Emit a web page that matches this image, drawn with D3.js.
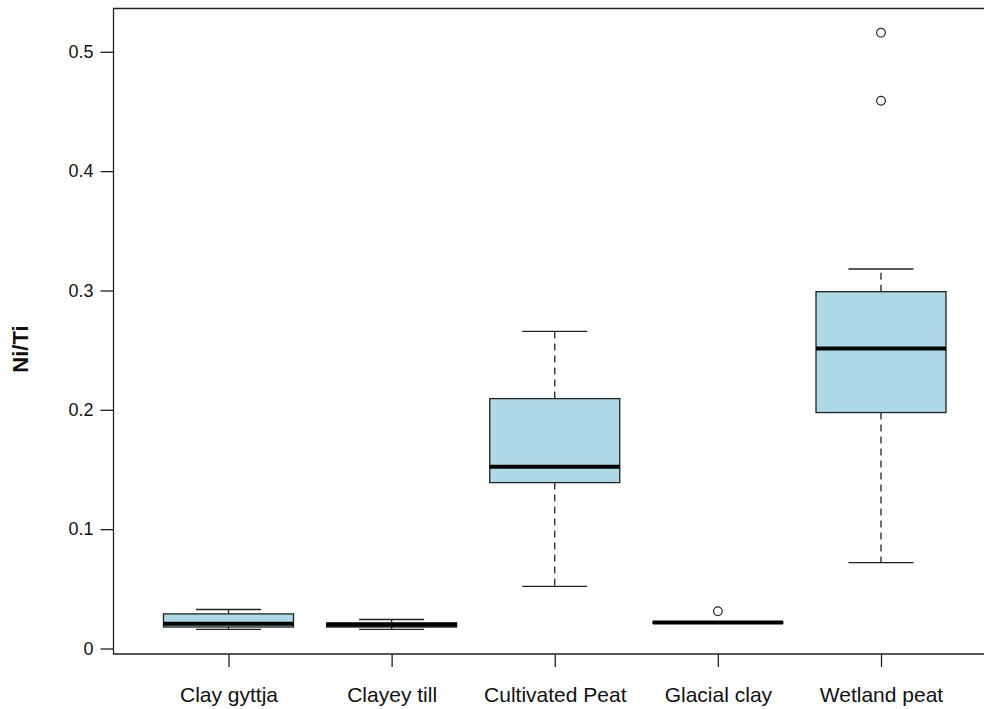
<!DOCTYPE html>
<html><head><meta charset="utf-8">
<script src="https://cdn.jsdelivr.net/npm/d3@7"></script>
<style>body{margin:0;background:#fff}svg{display:block}text{font-family:"Liberation Sans",Arial,sans-serif}</style>
</head><body>
<svg id="c" width="984" height="709"></svg>
<script>
const categories = ["Clay gyttja","Clayey till","Cultivated Peat","Glacial clay","Wetland peat"];
const whiskerLow  = [0.016, 0.016, 0.052, 0.0218, 0.072];
const q1          = [0.018, 0.018, 0.139, 0.0212, 0.1977];
const median      = [0.0207, 0.0200, 0.1524, 0.0218, 0.2513];
const q3          = [0.029, 0.0215, 0.2094, 0.0222, 0.299];
const whiskerHigh = [0.0327, 0.0243, 0.2657, 0.0218, 0.318];
const outliers    = [[], [], [], [0.0312], [0.459, 0.516]];
const yTicks = [0, 0.1, 0.2, 0.3, 0.4, 0.5];
const yTickLabels = ["0","0.1","0.2","0.3","0.4","0.5"];

(function(){
const svg = d3.select("#c");
const pLeft = 113.5, pTop = 8.5, pBottom = 654, pRight = 1047;
const y = d3.scaleLinear().domain([0, 0.5]).range([648.5, 51.8]);
const xc = d3.scalePoint().domain(categories).range([228.5, 881]);
const bw = 130;

svg.append("path").attr("d", `M${pRight},${pTop}H${pLeft}V${pBottom}H${pRight}`)
  .attr("fill","none").attr("stroke","#222").attr("stroke-width",1.3);

const ya = svg.append("g").attr("transform",`translate(${pLeft},0)`)
  .call(d3.axisLeft(y).tickValues(yTicks).tickFormat((d,i)=>yTickLabels[i]).tickSize(13).tickPadding(7));
ya.select(".domain").remove();
ya.selectAll("line").attr("stroke","#222").attr("stroke-width",1.3);
ya.selectAll("text").attr("font-size",18).attr("fill","#111");

const xa = svg.append("g").attr("transform",`translate(0,${pBottom})`)
  .call(d3.axisBottom(xc).tickSize(13).tickPadding(20));
xa.select(".domain").remove();
xa.selectAll("line").attr("stroke","#222").attr("stroke-width",1.3);
xa.selectAll("text").attr("font-size",21).attr("fill","#111");

svg.append("text").attr("transform","translate(28,349) rotate(-90)")
  .attr("text-anchor","middle").attr("font-size",22).attr("font-weight","bold").attr("fill","#111").text("Ni/Ti");

const g = svg.append("g");
categories.forEach((c,i)=>{
  const cx = xc(c);
  g.append("line").attr("x1",cx).attr("x2",cx).attr("y1",y(q3[i])).attr("y2",y(whiskerHigh[i]))
    .attr("stroke","#222").attr("stroke-width",1.3).attr("stroke-dasharray","7,5");
  g.append("line").attr("x1",cx).attr("x2",cx).attr("y1",y(q1[i])).attr("y2",y(whiskerLow[i]))
    .attr("stroke","#222").attr("stroke-width",1.3).attr("stroke-dasharray","7,5");
  [whiskerHigh[i], whiskerLow[i]].forEach(v=>{
    g.append("line").attr("x1",cx-bw/4).attr("x2",cx+bw/4).attr("y1",y(v)).attr("y2",y(v))
      .attr("stroke","#222").attr("stroke-width",1.3);
  });
  g.append("rect").attr("x",cx-bw/2).attr("width",bw).attr("y",y(q3[i])).attr("height",Math.max(0,y(q1[i])-y(q3[i])))
    .attr("fill","#add8e6").attr("stroke","#222").attr("stroke-width",1.3);
  g.append("line").attr("x1",cx-bw/2).attr("x2",cx+bw/2).attr("y1",y(median[i])).attr("y2",y(median[i]))
    .attr("stroke","#000").attr("stroke-width",4);
  outliers[i].forEach(v=>{
    g.append("circle").attr("cx",cx).attr("cy",y(v)).attr("r",4.3)
      .attr("fill","none").attr("stroke","#222").attr("stroke-width",1.2);
  });
});
})();
</script>
</body></html>
